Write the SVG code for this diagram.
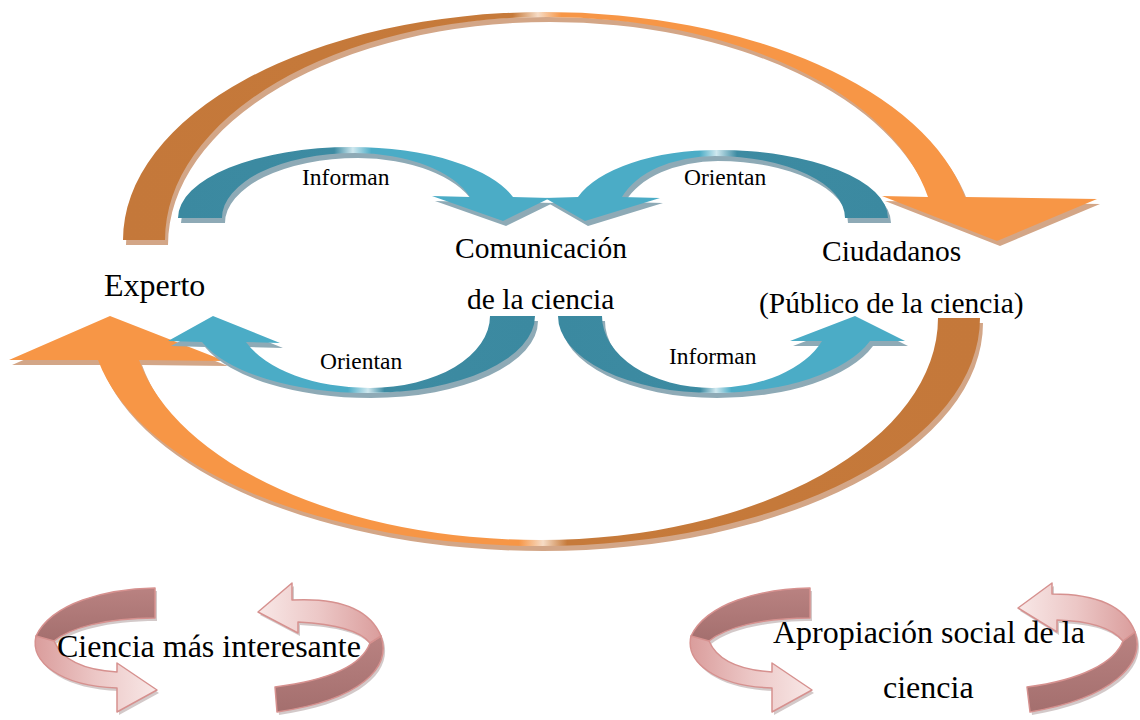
<svg xmlns="http://www.w3.org/2000/svg" xmlns:xlink="http://www.w3.org/1999/xlink" width="1140" height="720" viewBox="0 0 1140 720">
  <style>
    text { font-family: "Liberation Serif", "Times New Roman", serif; fill: #000; }
    .lbl { font-size: 29.5px; }
    .big { font-size: 32px; }
    .small { font-size: 23.5px; }
    .sh-or { fill: #D3A687; }
    .sh-bl { fill: #8EAAB6; }
    .rib { stroke: #D6918F; stroke-width: 1.5; stroke-linejoin: round; }
    .back { fill: url(#ribBack); }
    .rib-sh { fill: #A89494; opacity: 0.5; }
  </style>
  <defs>
    <!-- orange loop gradients: darker back half, bright front half, highlight at the crest -->
    <linearGradient id="gTop" gradientUnits="userSpaceOnUse" x1="123" y1="0" x2="1097" y2="0">
      <stop offset="0" stop-color="#C4783A"/>
      <stop offset="0.4" stop-color="#C67A3A"/>
      <stop offset="0.426" stop-color="#F6DCC6"/>
      <stop offset="0.45" stop-color="#F79646"/>
      <stop offset="1" stop-color="#F79646"/>
    </linearGradient>
    <linearGradient id="gBot" gradientUnits="userSpaceOnUse" x1="9" y1="0" x2="980" y2="0">
      <stop offset="0" stop-color="#F79646"/>
      <stop offset="0.525" stop-color="#F79646"/>
      <stop offset="0.55" stop-color="#F6DCC6"/>
      <stop offset="0.575" stop-color="#C67A3A"/>
      <stop offset="1" stop-color="#C4783A"/>
    </linearGradient>
    <!-- blue arrow gradients -->
    <linearGradient id="gB1" gradientUnits="userSpaceOnUse" x1="178" y1="0" x2="550" y2="0">
      <stop offset="0" stop-color="#3B89A0"/>
      <stop offset="0.42" stop-color="#3D8BA2"/>
      <stop offset="0.47" stop-color="#CFE8EF"/>
      <stop offset="0.52" stop-color="#4BACC6"/>
      <stop offset="1" stop-color="#4BACC6"/>
    </linearGradient>
    <linearGradient id="gB2" gradientUnits="userSpaceOnUse" x1="545" y1="0" x2="888" y2="0">
      <stop offset="0" stop-color="#4BACC6"/>
      <stop offset="0.45" stop-color="#4BACC6"/>
      <stop offset="0.5" stop-color="#CFE8EF"/>
      <stop offset="0.56" stop-color="#3D8BA2"/>
      <stop offset="1" stop-color="#3B89A0"/>
    </linearGradient>
    <linearGradient id="gB3" gradientUnits="userSpaceOnUse" x1="168" y1="0" x2="535" y2="0">
      <stop offset="0" stop-color="#4BACC6"/>
      <stop offset="0.49" stop-color="#4BACC6"/>
      <stop offset="0.545" stop-color="#CFE8EF"/>
      <stop offset="0.59" stop-color="#3D8BA2"/>
      <stop offset="1" stop-color="#3B89A0"/>
    </linearGradient>
    <linearGradient id="gB4" gradientUnits="userSpaceOnUse" x1="558" y1="0" x2="905" y2="0">
      <stop offset="0" stop-color="#3B89A0"/>
      <stop offset="0.41" stop-color="#3D8BA2"/>
      <stop offset="0.455" stop-color="#CFE8EF"/>
      <stop offset="0.5" stop-color="#4BACC6"/>
      <stop offset="1" stop-color="#4BACC6"/>
    </linearGradient>
    <!-- pink ribbon gradients -->
    <linearGradient id="ribBack" x1="0" y1="0" x2="0" y2="1">
      <stop offset="0" stop-color="#B98281"/>
      <stop offset="1" stop-color="#A46F6E"/>
    </linearGradient>
    <linearGradient id="ribFrontR" x1="0" y1="0" x2="1" y2="0">
      <stop offset="0" stop-color="#DA9D9C"/>
      <stop offset="0.5" stop-color="#ECC7C6"/>
      <stop offset="1" stop-color="#F8E8E7"/>
    </linearGradient>
    <linearGradient id="ribFrontL" x1="0" y1="0" x2="1" y2="0">
      <stop offset="0" stop-color="#F8E8E7"/>
      <stop offset="0.5" stop-color="#ECC7C6"/>
      <stop offset="1" stop-color="#DA9D9C"/>
    </linearGradient>

    <!-- shapes -->
    <path id="arcTop" d="M123,240 A422,228 0 0 1 545,12 A428,228 0 0 1 965,197 L1097,199 L997,241 L882,196 L928,197 A388,223 0 0 0 547,17 A382,223 0 0 0 165,240 Z"/>
    <path id="arcBot" d="M980,318 A440,228 0 0 1 540,546 A450,228 0 0 1 98,360 L9,360 L110,316 L225,361 L139,360 A408,222 0 0 0 540,540 A398,222 0 0 0 938,318 Z"/>
    <path id="b1" d="M178,218 A174,71 0 0 1 352,147 A169,71 0 0 1 513,197 L550,198 L503,221 L432,196 L470,197 A122,65 0 0 0 355,153 A133,65 0 0 0 222,218 Z"/>
    <path id="b2" d="M888,218 A170,68 0 0 0 718,150 A147,68 0 0 0 578,197 L545,198 L585,221 L660,198 L622,197 A99,62 0 0 1 715,156 A130,62 0 0 1 845,218 Z"/>
    <path id="b3" d="M535,316 A167,77 0 0 1 368,393 A176,77 0 0 1 202,342 L168,341 L213,316 L280,343 L246,342 A133,72 0 0 0 370,388 A120,72 0 0 0 490,316 Z"/>
    <path id="b4" d="M558,316 A156,77 0 0 0 714,393 A165,77 0 0 0 870,341 L905,341 L855,316 L790,341 L822,341 A117,72 0 0 1 712,388 A110,72 0 0 1 602,316 Z"/>

    <!-- ribbon loops: dark back band plus light front band with arrowhead -->
    <path id="rL-back" d="M155,588 C105,589 52,603 36,636 C43,640 49,641 54,641 C70,628 105,618 155,618 Z"/>
    <path id="rL-front" d="M36,636 C30,662 60,686 117,688 L117,712 L157,690 L117,663 L117,672 C85,670 62,660 54,641 Z"/>
    <path id="rR-front" d="M258,612 L292,583 L292,600 C330,598 368,605 381,636 L370,643 C360,630 335,624 298,622 L298,633 Z"/>
    <path id="rR-back" d="M381,636 C392,668 360,700 277,712 L275,687 C330,680 362,665 370,643 Z"/>
    <path id="rR2-front" d="M1018,608 L1052,583 L1052,594 C1090,594 1124,603 1135,632 L1123,641 C1112,628 1092,621 1057,620 L1057,632 Z"/>
    <path id="rR2-back" d="M1135,632 C1146,664 1112,698 1030,712 L1027,687 C1082,680 1115,662 1123,641 Z"/>
  </defs>

  <rect width="1140" height="720" fill="#FFFFFF"/>

  <!-- connectors: orange outer loop and blue inner arrows -->
  <g id="connectors">
    <use href="#arcTop" class="sh-or" transform="translate(3,5)"/>
    <use href="#arcTop" fill="url(#gTop)"/>
    <use href="#arcBot" class="sh-or" transform="translate(3,5)"/>
    <use href="#arcBot" fill="url(#gBot)"/>

    <use href="#b1" class="sh-bl" transform="translate(3,5)"/>
    <use href="#b1" fill="url(#gB1)"/>
    <use href="#b2" class="sh-bl" transform="translate(3,5)"/>
    <use href="#b2" fill="url(#gB2)"/>
    <use href="#b3" class="sh-bl" transform="translate(3,5)"/>
    <use href="#b3" fill="url(#gB3)"/>
    <use href="#b4" class="sh-bl" transform="translate(3,5)"/>
    <use href="#b4" fill="url(#gB4)"/>

    <text class="small" x="302" y="185">Informan</text>
    <text class="small" x="684" y="185">Orientan</text>
    <text class="small" x="320" y="369">Orientan</text>
    <text class="small" x="669" y="364">Informan</text>
  </g>

  <g id="node-experto">
    <text class="big" x="104" y="296">Experto</text>
  </g>

  <g id="node-comunicacion">
    <text class="lbl" x="455" y="258">Comunicación</text>
    <text class="lbl" x="467" y="309">de la ciencia</text>
  </g>

  <g id="node-ciudadanos">
    <text class="lbl" x="822" y="261">Ciudadanos</text>
    <text class="lbl" x="759" y="313">(Público de la ciencia)</text>
  </g>

  <g id="node-ciencia-interesante">
    <g class="rib-sh" transform="translate(2,3)">
      <use href="#rL-back"/><use href="#rL-front"/><use href="#rR-front"/><use href="#rR-back"/>
    </g>
    <use href="#rL-back" class="rib back"/>
    <use href="#rL-front" class="rib" fill="url(#ribFrontR)"/>
    <use href="#rR-back" class="rib back"/>
    <use href="#rR-front" class="rib" fill="url(#ribFrontL)"/>
    <text class="big" x="57" y="657">Ciencia más interesante</text>
  </g>

  <g id="node-apropiacion">
    <g class="rib-sh" transform="translate(657,3)">
      <use href="#rL-back"/><use href="#rL-front"/>
    </g>
    <g class="rib-sh" transform="translate(2,3)">
      <use href="#rR2-front"/><use href="#rR2-back"/>
    </g>
    <g transform="translate(655,0)">
      <use href="#rL-back" class="rib back"/>
      <use href="#rL-front" class="rib" fill="url(#ribFrontR)"/>
    </g>
    <use href="#rR2-back" class="rib back"/>
    <use href="#rR2-front" class="rib" fill="url(#ribFrontL)"/>
    <text class="big" x="773" y="643">Apropiación social de la</text>
    <text class="big" x="883" y="698">ciencia</text>
  </g>
</svg>
